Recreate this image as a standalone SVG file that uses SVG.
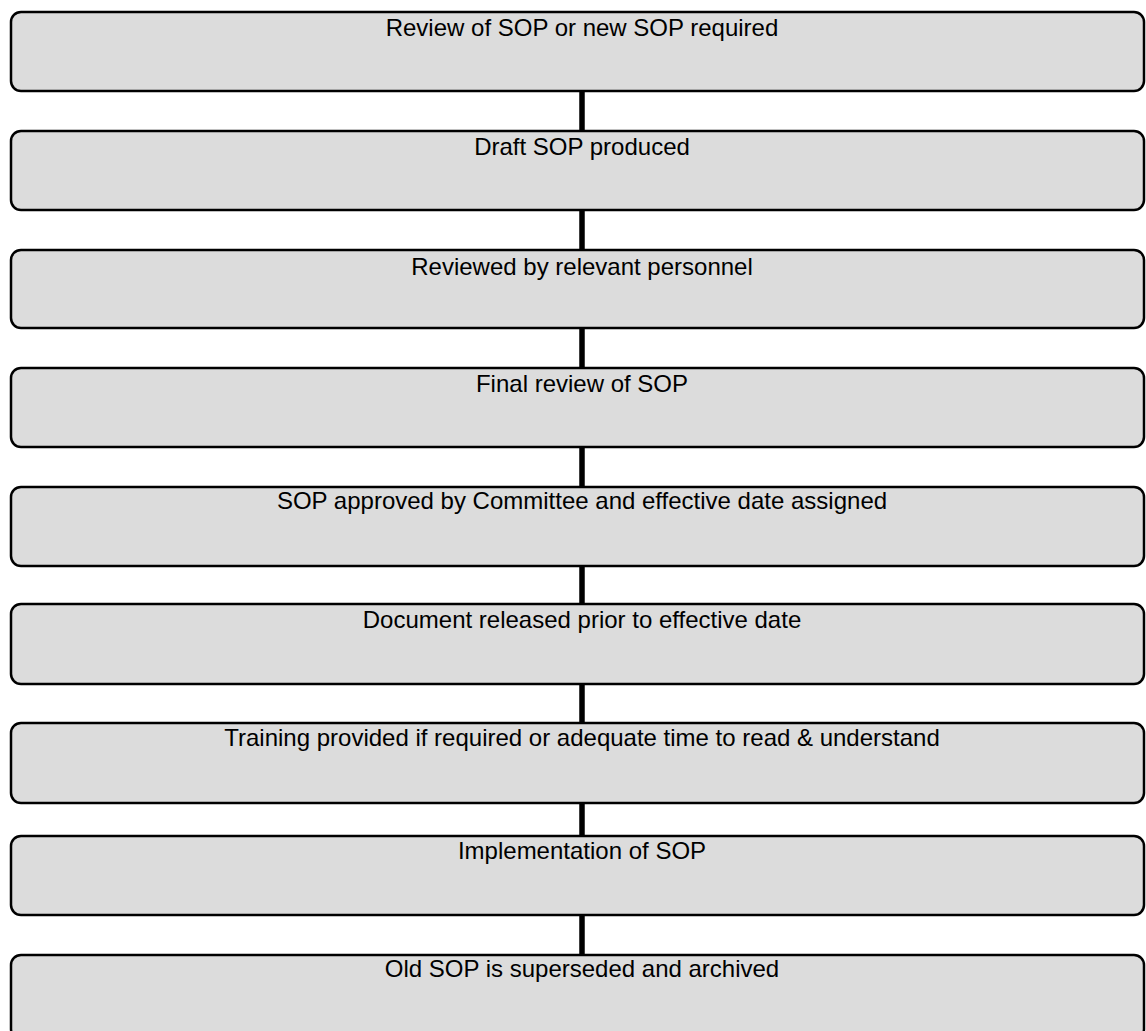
<svg xmlns="http://www.w3.org/2000/svg" width="1146" height="1031" viewBox="0 0 1146 1031">
<style>
.box{fill:#dcdcdc;stroke:#000;stroke-width:2.5}
.lbl{font-family:"Liberation Sans",Arial,sans-serif;font-size:24px;fill:#000;text-anchor:middle}
.con{stroke:#000;stroke-width:5.5;fill:none}
</style>
<rect width="1146" height="1031" fill="#fff"/>
<g id="connectors">
<line class="con" x1="582" y1="91" x2="582" y2="131"/>
<line class="con" x1="582" y1="210" x2="582" y2="250"/>
<line class="con" x1="582" y1="328" x2="582" y2="368"/>
<line class="con" x1="582" y1="447" x2="582" y2="487"/>
<line class="con" x1="582" y1="566" x2="582" y2="604"/>
<line class="con" x1="582" y1="684" x2="582" y2="723"/>
<line class="con" x1="582" y1="803" x2="582" y2="836"/>
<line class="con" x1="582" y1="915" x2="582" y2="955"/>
</g>
<g id="n1"><rect class="box" x="11" y="12" width="1133" height="79" rx="10"/><text class="lbl" x="582" y="36">Review of SOP or new SOP required</text></g>
<g id="n2"><rect class="box" x="11" y="131" width="1133" height="79" rx="10"/><text class="lbl" x="582" y="155">Draft SOP produced</text></g>
<g id="n3"><rect class="box" x="11" y="250" width="1133" height="78" rx="10"/><text class="lbl" x="582" y="275">Reviewed by relevant personnel</text></g>
<g id="n4"><rect class="box" x="11" y="368" width="1133" height="79" rx="10"/><text class="lbl" x="582" y="392">Final review of SOP</text></g>
<g id="n5"><rect class="box" x="11" y="487" width="1133" height="79" rx="10"/><text class="lbl" x="582" y="509">SOP approved by Committee and effective date assigned</text></g>
<g id="n6"><rect class="box" x="11" y="604" width="1133" height="80" rx="10"/><text class="lbl" x="582" y="628">Document released prior to effective date</text></g>
<g id="n7"><rect class="box" x="11" y="723" width="1133" height="80" rx="10"/><text class="lbl" x="582" y="746">Training provided if required or adequate time to read &amp; understand</text></g>
<g id="n8"><rect class="box" x="11" y="836" width="1133" height="79" rx="10"/><text class="lbl" x="582" y="859">Implementation of SOP</text></g>
<g id="n9"><rect class="box" x="11" y="955" width="1133" height="84" rx="10"/><text class="lbl" x="582" y="977">Old SOP is superseded and archived</text></g>
</svg>
